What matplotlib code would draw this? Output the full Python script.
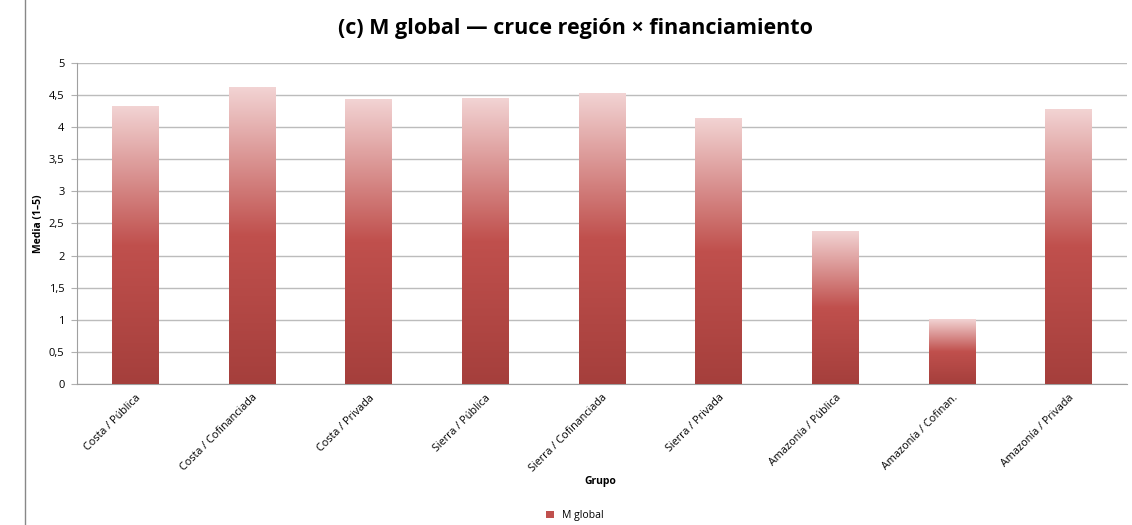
import numpy as np
import matplotlib
matplotlib.use("Agg")
import matplotlib.pyplot as plt
from matplotlib.colors import LinearSegmentedColormap
from matplotlib.patches import Rectangle

plt.rcParams['font.family'] = ['Open Sans', 'DejaVu Sans']

grupos = ["Costa / Pública", "Costa / Cofinanciada", "Costa / Privada",
          "Sierra / Pública", "Sierra / Cofinanciada", "Sierra / Privada",
          "Amazonía / Pública", "Amazonía / Cofinan.", "Amazonía / Privada"]
m_global = [4.33, 4.62, 4.43, 4.44, 4.52, 4.14, 2.38, 1.00, 4.27]
yticks = [0, 0.5, 1, 1.5, 2, 2.5, 3, 3.5, 4, 4.5, 5]

fig = plt.figure(figsize=(11.32, 5.25), dpi=100)
ax = fig.add_axes([0.068, 0.2686, 0.9276, 0.6114])

# excel style gradient: light at top, red in middle, darker at bottom
grad = LinearSegmentedColormap.from_list(
    "xl", [(0.0, "#a53f3c"), (0.5, "#c0504d"), (1.0, "#f2d3d3")])

x = np.arange(len(grupos))
bars = ax.bar(x, m_global, width=0.4, color="none", edgecolor="none",
              label="M global", zorder=3)
g = np.linspace(0, 1, 256).reshape(-1, 1)
for b in bars:
    x0, w, h = b.get_x(), b.get_width(), b.get_height()
    ax.imshow(g, cmap=grad, origin="lower", aspect="auto",
              extent=[x0, x0 + w, 0, h], zorder=3)

ax.set_xlim(-0.5, len(grupos) - 0.5)
ax.set_ylim(0, 5)
ax.set_yticks(yticks)
ax.set_yticklabels([str(t).replace(".", ",").replace(",0", "") for t in yticks],
                   fontsize=8)
ax.set_xticks(x)
ax.set_xticklabels(grupos, rotation=45, ha="right", rotation_mode="anchor",
                   fontsize=7.8)
ax.tick_params(axis="x", length=0, pad=6)
ax.tick_params(axis="y", length=4, color="#b0b0b0", pad=5)
ax.grid(axis="y", color="#bcbcbc", linewidth=1, zorder=0)
for s in ["top", "right"]:
    ax.spines[s].set_visible(False)
for s in ["left", "bottom"]:
    ax.spines[s].set_color("#a0a0a0")

ax.set_ylabel("Media (1–5)", fontsize=7.5, fontweight="bold")
ax.yaxis.set_label_coords(-0.031, 0.5)
fig.text(0.53, 0.078, "Grupo", fontsize=7.5, fontweight="bold", ha="center")
fig.suptitle("(c) M global — cruce región × financiamiento", x=0.508, y=0.965,
             fontsize=15.5, fontweight="bold")

handle = Rectangle((0, 0), 1, 1, facecolor="#c0504d", edgecolor="none")
fig.legend([handle], ["M global"], loc="lower center", bbox_to_anchor=(0.508, -0.01),
           frameon=False, fontsize=7.5, handlelength=0.7, handleheight=0.7)

fig.add_artist(Rectangle((0.022, -0.01), 0.985, 1.05, transform=fig.transFigure,
                         fill=False, edgecolor="#888888", linewidth=1))

fig.savefig("out.png", dpi=100)
